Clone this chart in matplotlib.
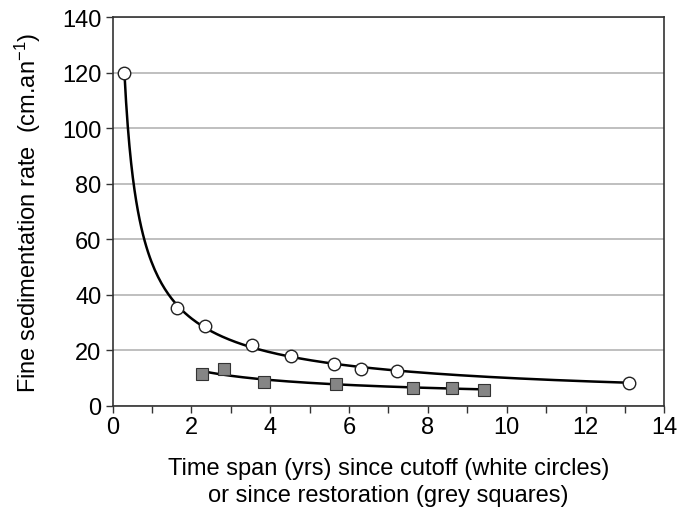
import numpy as np
import matplotlib
matplotlib.use("Agg")
from matplotlib import pyplot as plt
from matplotlib.ticker import MultipleLocator

plt.rcParams['font.family'] = ['Liberation Sans', 'DejaVu Sans']
plt.rcParams['mathtext.fontset'] = 'custom'
plt.rcParams['mathtext.rm'] = 'Liberation Sans'
plt.rcParams['mathtext.it'] = 'Liberation Sans'

# white circles: time since cutoff
cut_t = [0.3, 1.64, 2.35, 3.53, 4.52, 5.63, 6.3, 7.22, 13.1]
cut_rate = [120, 35.4, 28.7, 22.0, 18.0, 15.1, 13.5, 12.7, 8.4]

# grey squares: time since restoration
rest_t = [2.28, 2.83, 3.85, 5.68, 7.63, 8.6, 9.43]
rest_rate = [11.6, 13.2, 8.6, 8.0, 6.5, 6.5, 5.9]


def power_fit(x, y):
    # least squares in log-log space, like an Excel power trendline
    b, ln_a = np.polyfit(np.log(x), np.log(y), 1)
    xs = np.linspace(min(x), max(x), 300)
    return xs, np.exp(ln_a) * xs ** b


fig = plt.figure(figsize=(6.78, 5.10), dpi=100)
ax = fig.add_axes([0.166, 0.202, 0.814, 0.762])

ax.yaxis.grid(True, color='#b4b4b4', linewidth=1.2)
ax.set_axisbelow(True)

xs, ys = power_fit(cut_t, cut_rate)
ax.plot(xs, ys, color='black', linewidth=1.8, zorder=2)
xs, ys = power_fit(rest_t, rest_rate)
ax.plot(xs, ys, color='black', linewidth=1.8, zorder=2)

ax.plot(cut_t, cut_rate, linestyle='none', marker='o', markersize=9,
        markerfacecolor='white', markeredgecolor='#222222', markeredgewidth=1.0, zorder=3)
ax.plot(rest_t, rest_rate, linestyle='none', marker='s', markersize=8.5,
        markerfacecolor='#858585', markeredgecolor='#333333', markeredgewidth=0.8, zorder=3)

ax.set_xlim(0, 14)
ax.set_ylim(0, 140)
ax.xaxis.set_major_locator(MultipleLocator(2))
ax.xaxis.set_minor_locator(MultipleLocator(1))
ax.yaxis.set_major_locator(MultipleLocator(20))
ax.tick_params(axis='both', which='both', direction='out', length=5, width=1.0,
               labelsize=17, color='#333333')
ax.tick_params(axis='x', pad=2)
ax.tick_params(axis='y', pad=3)

for s in ax.spines.values():
    s.set_color('#333333')
    s.set_linewidth(1.2)

ax.set_xlabel('Time span (yrs) since cutoff (white circles)\nor since restoration (grey squares)',
              fontsize=17, labelpad=14, linespacing=1.3)
ax.set_ylabel(r'Fine sedimentation rate  (cm.an$^{-1}$)', fontsize=17, labelpad=14)

fig.savefig('out.png', dpi=100)
